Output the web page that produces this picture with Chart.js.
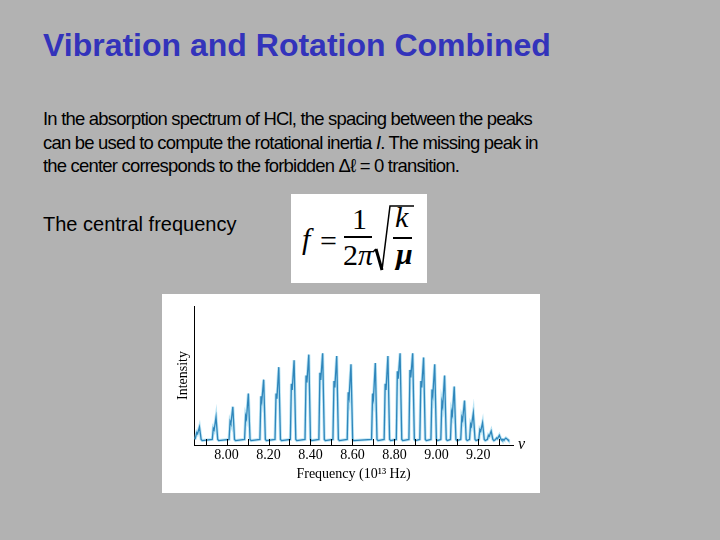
<!DOCTYPE html>
<html>
<head>
<meta charset="utf-8">
<title>Vibration and Rotation Combined</title>
<script src="https://cdn.jsdelivr.net/npm/chart.js@4.4.1/dist/chart.umd.min.js"></script>
<style>
  html, body { margin: 0; padding: 0; }
  body { width: 720px; height: 540px; background: #b2b2b2; position: relative; overflow: hidden; font-family: "Liberation Sans", Arial, sans-serif; }
  .abs { position: absolute; white-space: nowrap; }
  #title { left: 43px; top: 29px; font-size: 32px; line-height: 32px; font-weight: bold; color: #3333bb; }
  #para { left: 43px; top: 107px; font-size: 19px; line-height: 23.5px; letter-spacing: -0.82px; color: #000; transform: scaleX(0.972); transform-origin: 0 0; }
  #central { left: 43px; top: 214px; font-size: 20px; line-height: 20px; color: #000; }
  #formula { left: 291px; top: 194px; width: 136px; height: 89px; background: #fff; }
  .tm { position: absolute; font-family: "Liberation Serif", "Times New Roman", serif; font-size: 30px; line-height: 30px; color: #000; white-space: nowrap; }
  .bar { position: absolute; height: 1.5px; background: #000; }
  #panel { left: 162px; top: 294px; width: 378px; height: 199px; background: #fff; }
</style>
</head>
<body>
<div id="title" class="abs">Vibration and Rotation Combined</div>
<div id="para" class="abs">In the absorption spectrum of HCl, the spacing between the peaks<br>can be used to compute the rotational inertia <i>I</i>. The missing peak in<br>the center corresponds to the forbidden &Delta;&#8467; = 0 transition.</div>
<div id="central" class="abs">The central frequency</div>

<div id="formula" class="abs">
  <span class="tm" style="left:11px;top:30px;font-style:italic;">f</span>
  <span class="tm" style="left:29px;top:32px;">=</span>
  <span class="tm" style="left:61px;top:10px;">1</span>
  <div class="bar" style="left:53px;top:42px;width:28px;"></div>
  <span class="tm" style="left:52px;top:46px;">2<i>&pi;</i></span>
  <svg style="position:absolute;left:79px;top:10px;" width="48" height="70">
    <polyline points="3,48 6,45" fill="none" stroke="#000" stroke-width="1.5"/>
    <polyline points="6,45 12,66" fill="none" stroke="#000" stroke-width="3"/>
    <polyline points="12,66 20,2 44,2" fill="none" stroke="#000" stroke-width="1.5"/>
  </svg>
  <span class="tm" style="left:104px;top:8px;font-style:italic;">k</span>
  <div class="bar" style="left:102px;top:43px;width:19px;"></div>
  <span class="tm" style="left:105px;top:45px;font-style:italic;font-weight:bold;">&mu;</span>
</div>

<div id="panel" class="abs"><canvas id="spectrum" width="378" height="199"></canvas></div>

<script>
// Peaks of the HCl band (frequency in 10^13 Hz, intensity 0-100)
const peakFreq = [7.873, 7.952, 8.032, 8.106, 8.179, 8.251, 8.324, 8.394, 8.460, 8.527, 8.595,
                  8.711, 8.771, 8.829, 8.889, 8.941, 8.994, 9.041, 9.087, 9.136, 9.178, 9.222, 9.263, 9.302, 9.333];
const peakTop = [13, 20, 27.5, 37, 47, 56, 61, 65, 66, 64, 58,
                 59, 64, 66, 66, 63, 58, 50, 42, 32, 23, 16, 10, 7, 5];
// the weaker isotope line sitting on the low-frequency side of each peak
const shoulderTop = [9, 12, 17, 21, 35, 37, 44, 50, 52, 46, 38,
                     37, 44, 53, 54, 46, 40, 31, 24, 20, 15, 11, 7, 5, 4];
const baseLevel = 4;
const traceStart = 7.85;
const traceEnd = 9.344;

// x axis ticks every 0.1, labels every 0.2
const tickValues = [7.9, 8.0, 8.1, 8.2, 8.3, 8.4, 8.5, 8.6, 8.7, 8.8, 8.9, 9.0, 9.1, 9.2, 9.3];
const tickLabels = ['', '8.00', '', '8.20', '', '8.40', '', '8.60', '', '8.80', '', '9.00', '', '9.20', ''];

// Build the trace points from the peak lists
function buildTrace() {
  const pts = [{ x: traceStart, y: baseLevel }];
  for (let i = 0; i < peakFreq.length; i++) {
    const f = peakFreq[i];
    pts.push({ x: f - 0.020, y: baseLevel });
    pts.push({ x: f - 0.015, y: shoulderTop[i] });
    pts.push({ x: f - 0.011, y: shoulderTop[i] * 0.9 });
    pts.push({ x: f - 0.002, y: peakTop[i] });
    pts.push({ x: f + 0.006, y: baseLevel });
    pts.push({ x: f + 0.011, y: baseLevel - 0.8 });
  }
  pts.push({ x: traceEnd, y: baseLevel });
  return pts;
}

// small tick marks pointing up into the plot, plus the nu label
const axisExtras = {
  id: 'axisExtras',
  afterDraw(chart) {
    const ctx = chart.ctx;
    const xs = chart.scales.x;
    const area = chart.chartArea;
    ctx.save();
    ctx.strokeStyle = '#000';
    ctx.lineWidth = 1;
    xs.ticks.forEach(t => {
      const px = Math.round(xs.getPixelForValue(t.value)) + 0.5;
      ctx.beginPath();
      ctx.moveTo(px, area.bottom);
      ctx.lineTo(px, area.bottom - 6);
      ctx.stroke();
    });
    ctx.fillStyle = '#000';
    ctx.font = 'italic 16px "Liberation Serif", serif';
    ctx.textBaseline = 'middle';
    ctx.fillText('\u03BD', area.right + 5, area.bottom);
    ctx.restore();
  }
};

function renderSpectrum() {
  const ctx = document.getElementById('spectrum');
  const trace = buildTrace();
  new Chart(ctx.getContext('2d'), {
    type: 'line',
    data: {
      datasets: [
        {
          // main trace
          data: trace,
          borderColor: '#2f86bb',
          borderWidth: 1.3,
          pointRadius: 0,
          tension: 0,
          fill: false
        },
        {
          // light halo around the trace
          data: trace,
          borderColor: 'rgba(130, 205, 235, 0.55)',
          borderWidth: 3,
          pointRadius: 0,
          tension: 0,
          fill: false
        }
      ]
    },
    options: {
      responsive: false,
      animation: false,
      devicePixelRatio: 1,
      layout: { padding: { top: 12, right: 27, left: 0, bottom: 0 } },
      plugins: { legend: { display: false }, tooltip: { enabled: false } },
      scales: {
        x: {
          type: 'linear',
          min: 7.845,
          max: 9.365,
          afterBuildTicks: s => { s.ticks = tickValues.map(v => ({ value: v })); },
          afterFit: s => { s.height = 48; },
          grid: { display: false, drawTicks: false },
          border: { display: true, color: '#000', width: 1 },
          ticks: {
            autoSkip: false,
            maxRotation: 0,
            padding: 2,
            color: '#000',
            font: { family: '"Liberation Serif", serif', size: 14 },
            callback: (value, index) => tickLabels[index]
          },
          title: {
            display: true,
            text: 'Frequency (10\u00B9\u00B3 Hz)',
            color: '#000',
            font: { family: '"Liberation Serif", serif', size: 14 },
            padding: { top: 0, bottom: 10 }
          }
        },
        y: {
          min: 0,
          max: 100,
          afterFit: s => { s.width = 32; },
          grid: { display: false, drawTicks: false },
          border: { display: true, color: '#000', width: 1 },
          ticks: { display: false },
          title: {
            display: true,
            text: 'Intensity',
            color: '#000',
            font: { family: '"Liberation Serif", serif', size: 14 },
            padding: { top: 13, bottom: 0 }
          }
        }
      }
    },
    plugins: [axisExtras]
  });
}

document.addEventListener('DOMContentLoaded', renderSpectrum);
</script>
</body>
</html>
